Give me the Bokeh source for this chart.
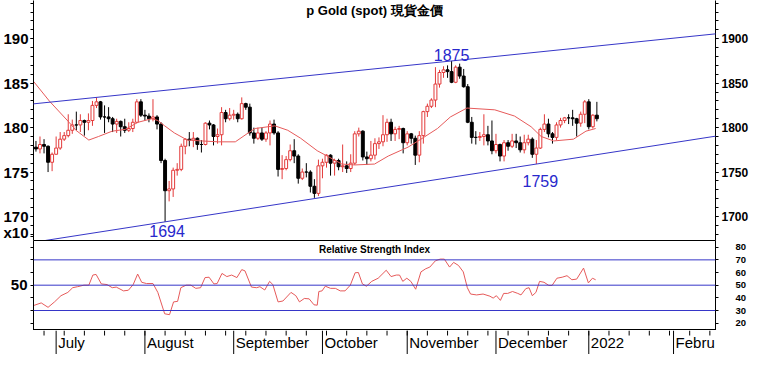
import numpy as np
import pandas as pd
from bokeh.plotting import figure
from bokeh.models import Range1d, LinearAxis, FixedTicker, Label, Slope, Span, ColumnDataSource
from bokeh.layouts import column
from bokeh.core.properties import value
from bokeh.embed import file_html
from bokeh.resources import INLINE

# ---------------- data ----------------
title_text = "p Gold (spot) 現貨金價"
rsi_title = "Relative Strength Index"
scale_note = "x10"

dates = pd.bdate_range("2021-06-24", "2022-01-05")

opens = [1778, 1776,
         1781, 1779, 1761, 1770, 1777, 1787, 1791, 1797, 1803, 1803,
         1808, 1806, 1808, 1825, 1829, 1812, 1812, 1810, 1804, 1807,
         1801, 1797, 1799, 1806, 1829, 1814, 1813, 1810, 1812, 1804,
         1763, 1729, 1731, 1752, 1753, 1779, 1787, 1786, 1788, 1781,
         1781, 1805, 1803, 1790, 1792, 1817, 1810, 1814, 1815, 1810,
         1827, 1823, 1794, 1788, 1794, 1787, 1794, 1804, 1794, 1753,
         1754, 1764, 1774, 1768, 1743, 1750, 1750, 1734, 1726, 1757,
         1761, 1769, 1760, 1763, 1756, 1757, 1754, 1760, 1793, 1796,
         1767, 1765, 1769, 1782, 1784, 1792, 1806, 1793, 1798, 1799,
         1783, 1793, 1788, 1769, 1791, 1818, 1824, 1831, 1849, 1862,
         1865, 1863, 1851, 1868, 1858, 1846, 1806, 1789, 1789, 1790,
         1792, 1785, 1774, 1781, 1768, 1783, 1779, 1785, 1783, 1775,
         1783, 1787, 1770, 1777, 1798, 1804, 1793, 1789, 1803, 1808,
         1811, 1811, 1810, 1805, 1815, 1829, 1801, 1814]
highs = [1785, 1790,
         1787, 1780, 1772, 1790, 1795, 1795, 1815, 1809, 1818, 1815,
         1809, 1816, 1830, 1834, 1830, 1825, 1823, 1812, 1810, 1808,
         1810, 1806, 1810, 1832, 1832, 1820, 1816, 1832, 1814, 1806,
         1765, 1740, 1755, 1760, 1782, 1788, 1795, 1795, 1789, 1786,
         1806, 1808, 1804, 1799, 1823, 1820, 1822, 1820, 1817, 1834,
         1828, 1827, 1800, 1800, 1800, 1796, 1808, 1809, 1796, 1769,
         1768, 1781, 1787, 1770, 1754, 1760, 1752, 1742, 1764, 1765,
         1770, 1770, 1765, 1765, 1781, 1762, 1770, 1796, 1800, 1797,
         1773, 1785, 1788, 1789, 1814, 1810, 1810, 1801, 1802, 1800,
         1796, 1794, 1791, 1796, 1819, 1827, 1833, 1868, 1865, 1869,
         1870, 1875, 1870, 1872, 1866, 1849, 1812, 1796, 1795, 1815,
         1802, 1808, 1793, 1782, 1786, 1786, 1793, 1793, 1790, 1792,
         1792, 1789, 1786, 1800, 1815, 1810, 1795, 1806, 1811, 1812,
         1815, 1820, 1811, 1818, 1831, 1832, 1815, 1829]
lows = [1773, 1771,
        1771, 1750, 1751, 1770, 1775, 1785, 1789, 1793, 1797, 1795,
        1791, 1797, 1802, 1822, 1809, 1794, 1806, 1795, 1794, 1790,
        1794, 1795, 1795, 1805, 1812, 1808, 1806, 1807, 1798, 1760,
        1694, 1717, 1722, 1746, 1751, 1770, 1779, 1778, 1775, 1772,
        1780, 1798, 1780, 1782, 1780, 1806, 1808, 1809, 1806, 1809,
        1820, 1791, 1782, 1786, 1785, 1784, 1780, 1792, 1745, 1742,
        1752, 1762, 1760, 1737, 1741, 1744, 1727, 1721, 1723, 1743,
        1755, 1746, 1746, 1752, 1750, 1749, 1750, 1758, 1790, 1763,
        1758, 1762, 1764, 1776, 1779, 1784, 1785, 1785, 1787, 1771,
        1780, 1782, 1758, 1761, 1782, 1812, 1822, 1823, 1845, 1856,
        1856, 1850, 1850, 1855, 1845, 1805, 1782, 1781, 1785, 1780,
        1780, 1770, 1771, 1762, 1762, 1774, 1777, 1777, 1772, 1771,
        1780, 1766, 1759, 1776, 1795, 1789, 1782, 1786, 1800, 1805,
        1804, 1802, 1790, 1801, 1805, 1798, 1799, 1807]
closes = [1776, 1781,
          1779, 1761, 1770, 1777, 1787, 1791, 1797, 1803, 1803, 1808,
          1806, 1808, 1825, 1829, 1812, 1812, 1810, 1804, 1807, 1801,
          1797, 1799, 1806, 1829, 1814, 1813, 1810, 1812, 1804, 1763,
          1729, 1731, 1752, 1753, 1779, 1787, 1786, 1788, 1781, 1781,
          1805, 1803, 1790, 1792, 1817, 1810, 1814, 1815, 1810, 1827,
          1823, 1794, 1788, 1794, 1787, 1794, 1804, 1794, 1753, 1754,
          1764, 1774, 1768, 1743, 1750, 1750, 1734, 1726, 1757, 1761,
          1769, 1760, 1763, 1756, 1757, 1754, 1760, 1793, 1796, 1767,
          1765, 1769, 1782, 1784, 1792, 1806, 1793, 1798, 1799, 1783,
          1793, 1788, 1769, 1791, 1818, 1824, 1831, 1849, 1862, 1865,
          1863, 1851, 1868, 1858, 1846, 1806, 1789, 1789, 1790, 1792,
          1785, 1774, 1781, 1768, 1783, 1779, 1785, 1783, 1775, 1783,
          1787, 1770, 1777, 1798, 1804, 1793, 1789, 1803, 1808, 1811,
          1811, 1810, 1805, 1815, 1829, 1801, 1814, 1810]

# moving average, x in trading-day index from 2021-06-28
ma_day = [-2.6, 1.3, 6.2, 7.9, 11.1, 13.5, 16.9, 20.1, 23.3, 26.7, 28.2, 29.9, 32.3, 35.5,
          39.1, 43.3, 47.4, 50.6, 52.3, 57.2, 60.4, 63.6, 67.7, 71.4, 73.8, 77.0, 81.9,
          85.3, 90.2, 93.4, 97.5, 100.7, 104.8, 111.7, 116.6, 120.7, 123.2, 126.3, 131.2,
          134.3, 136.7]
ma_val = [1852, 1830, 1806, 1797, 1786, 1790, 1796, 1798, 1806, 1810, 1808, 1802, 1794, 1786,
          1785, 1784, 1784, 1794, 1799, 1802, 1797, 1788, 1774, 1765, 1759, 1758, 1759,
          1768, 1778, 1787, 1799, 1812, 1822, 1820, 1813, 1801, 1790, 1785, 1787,
          1796, 1799]

# RSI
rsi_day = [-2.7, -0.7, 1.0, 2.6, 4.2, 5.9, 7.1, 8.3, 9.9, 11.1,
           12.1, 12.9, 14.2, 15.6, 16.9, 17.9, 19.7, 20.9, 22.1, 23.2,
           24.2, 25.4, 27.0, 28.2, 29.9, 31.1, 32.1, 33.1, 33.9, 35.2,
           36.4, 37.6, 38.8, 39.9, 40.9, 42.1, 42.9, 44.1, 45.3, 46.5,
           47.8, 49.0, 49.8, 51.4, 52.7, 53.5, 54.7, 55.9, 56.7, 58.0,
           59.2, 61.2, 62.4, 63.3, 64.5, 65.7, 66.9, 67.7, 68.1, 68.9,
           69.7, 71.0, 72.2, 73.4, 74.6, 75.9, 77.1, 77.9, 78.9, 79.9,
           81.2, 82.8, 84.8, 86.0, 87.3, 88.1, 88.9, 89.9, 90.9, 92.1,
           93.4, 94.6, 95.6, 97.0, 98.2, 99.2, 100.5, 101.5, 102.7, 103.9,
           104.9, 105.7, 107.2, 108.8, 110.5, 111.3, 112.1, 113.1, 113.9, 114.9,
           116.1, 117.4, 118.2, 119.4, 120.2, 121.0, 121.9, 122.8, 123.9, 125.1,
           125.9, 127.1, 128.4, 129.6, 130.8, 132.0, 133.7, 134.9, 135.9, 136.7]
rsi_val = [33.8, 36, 32.5, 36.8, 41.7, 44.3, 48, 48.8, 50, 50,
           58, 58.5, 51, 50.5, 48, 48.5, 45.5, 46, 50.5, 58.8,
           52.3, 51.3, 51.3, 44.3, 27.4, 26.7, 36.8, 37.2, 48, 50,
           50, 47.5, 48, 56, 56.3, 51, 51.3, 59.3, 56.8, 58,
           56, 62.3, 61.3, 48.5, 48, 48.8, 46.2, 53, 50.5, 36.8,
           37.5, 44.3, 41.7, 36.8, 39.5, 39.2, 34.5, 34.2, 45, 45.5,
           49.2, 47.5, 47.5, 45.5, 45.5, 50, 59.8, 60, 51, 49.2,
           53, 55.5, 61.8, 56.8, 58, 58, 53, 55.5, 53, 46.8,
           60.5, 63, 64.3, 69.3, 70.6, 70.6, 64.3, 68, 65.6, 60.5,
           48, 43, 42.3, 43, 41.3, 39.8, 41.7, 38, 43.5, 43.5,
           45, 43.5, 42.3, 47.3, 48, 41.7, 44.3, 53, 52.3, 49.8,
           49.8, 55.5, 56.3, 57.5, 54.3, 54.8, 63.5, 51.8, 55.5, 54.3]
rsi_levels = [30, 50, 70]

# trend channel anchors
upper_days = ["2021-07-15", "2021-11-16"]
upper_prices = [1834, 1875]
lower_days = ["2021-08-09", "2021-12-15"]
lower_prices = [1694, 1759]

price_ticks = [1700, 1750, 1800, 1850, 1900]
price_left_labels = ["170", "175", "180", "185", "190"]
price_minor = list(range(1680, 1941, 10))
rsi_right_ticks = [20, 30, 40, 50, 60, 70, 80]

month_names = ["July", "August", "September", "October", "November", "December", "2022", "Febru"]

# ---------------- helpers ----------------
BASE = np.datetime64("2021-06-28")


def day_index(d):
    return int(np.busday_count(BASE, np.datetime64(pd.Timestamp(d).date())))


FONT = "Liberation Sans"
RED = "#e33a3a"
LINE_RED = "#e65a5a"
BLUE = "#3636c8"
TXT_BLUE = "#2828cc"

X0, X1 = -2.61, 166.4
W = 751
BL, BR = 33, 33
MAIN_H = 240
RSI_H = 90
AXIS_H = 24
Y0, Y1 = 1673, 1943

day = np.array([day_index(d) for d in dates])
o = np.array(opens, float)
h = np.array(highs, float)
l = np.array(lows, float)
c = np.array(closes, float)
up = c > o
dn = ~up

month_starts = pd.date_range("2021-07-01", "2022-02-28", freq="BMS")
month_idx = [day_index(d) for d in month_starts]
mondays = pd.date_range("2021-06-28", "2022-02-28", freq="W-MON")
monday_idx = [day_index(d) for d in mondays if X0 <= day_index(d) <= X1]


def style_axis(ax, size, standoff, maj_out, min_out, bold=True):
    ax.axis_line_color = "black"
    ax.major_tick_line_color = "black"
    ax.minor_tick_line_color = "black"
    ax.major_tick_in = 0
    ax.major_tick_out = maj_out
    ax.minor_tick_in = 0
    ax.minor_tick_out = min_out
    ax.major_label_text_font = FONT
    ax.major_label_text_font_style = "bold" if bold else "normal"
    ax.major_label_text_font_size = size
    ax.major_label_standoff = standoff
    ax.major_label_text_color = "black"


def base_fig(height, x_range, y_range):
    f = figure(width=W, height=height, x_range=x_range, y_range=y_range,
               x_axis_location=None, y_axis_location=None, output_backend="svg",
               toolbar_location=None, min_border_left=BL, min_border_right=BR,
               min_border_top=0, min_border_bottom=0)
    f.grid.grid_line_color = None
    f.background_fill_color = "white"
    f.border_fill_color = "white"
    return f


# ---------------- main price panel ----------------
p = base_fig(MAIN_H, Range1d(X0, X1), Range1d(Y0, Y1))
p.outline_line_color = None

note_tick = Y0 + 4
left_labels = {t: s for t, s in zip(price_ticks, price_left_labels)}
left_labels[note_tick] = scale_note
la = LinearAxis(ticker=FixedTicker(ticks=price_ticks + [note_tick], minor_ticks=price_minor),
                major_label_overrides=left_labels)
style_axis(la, "15px", 2, 3, 3)
p.add_layout(la, "left")
ra = LinearAxis(ticker=FixedTicker(ticks=price_ticks, minor_ticks=price_minor))
style_axis(ra, "12px", 3, 3, 3)
p.add_layout(ra, "right")

# channel lines
for ds, ps in ((upper_days, upper_prices), (lower_days, lower_prices)):
    d0, d1 = day_index(ds[0]), day_index(ds[1])
    g = (ps[1] - ps[0]) / (d1 - d0)
    p.add_layout(Slope(gradient=g, y_intercept=ps[0] - g * d0, line_color=BLUE, line_width=1))

src_up = ColumnDataSource(dict(x=day[up], o=o[up], h=h[up], l=l[up], c=c[up]))
src_dn = ColumnDataSource(dict(x=day[dn], o=o[dn], h=h[dn], l=l[dn], c=c[dn]))
p.segment(x0="x", y0="l", x1="x", y1="h", source=src_up, line_color=RED, line_width=1)
p.segment(x0="x", y0="l", x1="x", y1="h", source=src_dn, line_color="black", line_width=1)
p.vbar(x="x", width=0.72, bottom="o", top="c", source=src_up,
       fill_color="white", line_color=RED, line_width=1)
p.vbar(x="x", width=0.72, bottom="c", top="o", source=src_dn,
       fill_color="black", line_color="black", line_width=1)

p.line(ma_day, ma_val, line_color=LINE_RED, line_width=1)

# extreme labels
hi_i = int(np.argmax(h))
lo_i = int(np.argmin(l))
dec_low_day = day_index(lower_days[1])
p.add_layout(Label(x=day[hi_i], y=h[hi_i] + 7, text=f"{int(h[hi_i])}", text_align="center",
                   text_baseline="alphabetic", text_font=FONT, text_font_size="16px",
                   text_color=TXT_BLUE))
p.add_layout(Label(x=day[lo_i] + 0.5, y=l[lo_i] - 4, text=f"{int(l[lo_i])}", text_align="center",
                   text_baseline="top", text_font=FONT, text_font_size="16px",
                   text_color=TXT_BLUE))
p.add_layout(Label(x=dec_low_day + 1, y=lower_prices[1] - 12, text=f"{lower_prices[1]}",
                   text_align="center", text_baseline="top", text_font=FONT,
                   text_font_size="16px", text_color=TXT_BLUE))

p.add_layout(Label(x=(X0 + X1) / 2, y=MAIN_H - 10, y_units="screen", text=title_text,
                   text_align="center", text_baseline="middle", text_font=FONT,
                   text_font_size="13px", text_font_style="bold", text_color="black"))

# ---------------- RSI panel ----------------
r = base_fig(RSI_H, p.x_range, Range1d(14.2, 85.3))
r.outline_line_color = "black"

for lvl in rsi_levels:
    r.add_layout(Span(location=lvl, dimension="width", line_color=BLUE, line_width=1))
r.line(rsi_day, rsi_val, line_color=LINE_RED, line_width=1)

rla = LinearAxis(ticker=FixedTicker(ticks=[50], minor_ticks=[t for t in rsi_right_ticks if t != 50]))
style_axis(rla, "15px", 3, 3, 3)
r.add_layout(rla, "left")
rra = LinearAxis(ticker=FixedTicker(ticks=rsi_right_ticks, minor_ticks=[]))
style_axis(rra, "9.5px", 17, 3, 0)
r.add_layout(rra, "right")

r.add_layout(Label(x=(X0 + X1) / 2, y=RSI_H - 9, y_units="screen", text=rsi_title,
                   text_align="center", text_baseline="middle", text_font=FONT,
                   text_font_size="10px", text_font_style="bold", text_color="black"))

# ---------------- date band (x axis) ----------------
b = base_fig(AXIS_H, p.x_range, Range1d(0, 1))
b.outline_line_color = None
tick_len = 5 / AXIS_H
b.segment(x0=month_idx, y0=[0] * len(month_idx), x1=month_idx, y1=[1] * len(month_idx),
          line_color="black", line_width=1)
b.segment(x0=monday_idx, y0=[1 - tick_len] * len(monday_idx), x1=monday_idx,
          y1=[1] * len(monday_idx), line_color="black", line_width=1)
b.text(x=month_idx, y=[0.5] * len(month_idx), text=month_names, x_offset=2,
       text_align="left", text_baseline="middle", text_font=value(FONT),
       text_font_size="15px", text_color="black")

layout = column(p, r, b)
open("out.html", "w").write(file_html(layout, INLINE, title="Gold spot"))
